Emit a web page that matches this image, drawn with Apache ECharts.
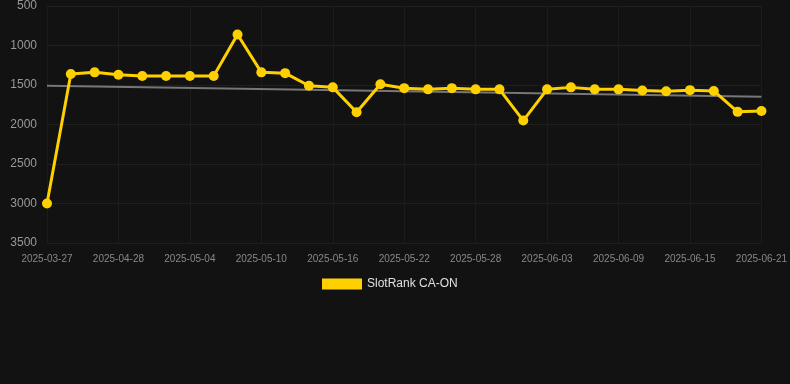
<!DOCTYPE html>
<html>
<head>
<meta charset="utf-8">
<script src="https://cdn.jsdelivr.net/npm/echarts@6/dist/echarts.min.js"></script>
<style>
  html, body { margin: 0; padding: 0; background: #121212; }
  #chart { width: 790px; height: 384px; }
</style>
</head>
<body>
<div id="chart"></div>
<script>
const dates = [
  '2025-03-27', '2025-04-24', '2025-04-26', '2025-04-28', '2025-04-30', '2025-05-02',
  '2025-05-04', '2025-05-06', '2025-05-08', '2025-05-10', '2025-05-12', '2025-05-14',
  '2025-05-16', '2025-05-18', '2025-05-20', '2025-05-22', '2025-05-24', '2025-05-26',
  '2025-05-28', '2025-05-30', '2025-06-01', '2025-06-03', '2025-06-05', '2025-06-07',
  '2025-06-09', '2025-06-11', '2025-06-13', '2025-06-15', '2025-06-17', '2025-06-19',
  '2025-06-21'
];
const ranks = [
  3000, 1360, 1340, 1370, 1385, 1385, 1385, 1385, 860, 1340, 1350, 1510,
  1530, 1845, 1490, 1540, 1555, 1540, 1555, 1555, 1950, 1555, 1530, 1555,
  1555, 1570, 1580, 1565, 1575, 1840, 1830
];
// trend line end points
const trendStart = 1510;
const trendEnd = 1650;
const yTicks = { min: 500, max: 3500, interval: 500 };

const chart = echarts.init(document.getElementById('chart'));
chart.setOption({
  backgroundColor: '#121212',
  animation: false,
  grid: { left: 47, right: 28, top: 6, bottom: 141 },
  legend: {
    data: ['SlotRank CA-ON'],
    top: 273,
    left: 317,
    itemWidth: 40,
    itemHeight: 11,
    itemGap: 10,
    icon: 'rect',
    textStyle: { color: '#e0e0e0', fontSize: 12, fontFamily: 'Liberation Sans, Arial, sans-serif' }
  },
  xAxis: {
    type: 'category',
    data: dates,
    boundaryGap: false,
    axisLine: { show: false },
    axisTick: { show: false },
    axisLabel: {
      interval: 2,
      color: '#888888',
      fontSize: 10,
      margin: 11,
      fontFamily: 'Liberation Sans, Arial, sans-serif'
    },
    splitLine: { show: true, interval: 2, lineStyle: { color: '#1c1c1c', width: 1 } }
  },
  yAxis: {
    type: 'value',
    inverse: true,
    min: yTicks.min,
    max: yTicks.max,
    interval: yTicks.interval,
    axisLine: { show: false },
    axisTick: { show: false },
    axisLabel: {
      color: '#999999',
      fontSize: 12,
      margin: 10,
      formatter: (v) => String(v),
      fontFamily: 'Liberation Sans, Arial, sans-serif'
    },
    splitLine: { lineStyle: { color: '#1f1f1f', width: 1 } }
  },
  series: [
    {
      name: 'SlotRank CA-ON',
      type: 'line',
      data: ranks,
      symbol: 'circle',
      symbolSize: 10,
      lineStyle: { color: '#ffd000', width: 3 },
      itemStyle: { color: '#ffd000' },
      z: 3
    },
    {
      name: 'trend',
      type: 'line',
      data: [[dates[0], trendStart], [dates[dates.length - 1], trendEnd]],
      symbol: 'none',
      lineStyle: { color: '#777777', width: 2 },
      z: 2
    }
  ]
});
</script>
</body>
</html>
